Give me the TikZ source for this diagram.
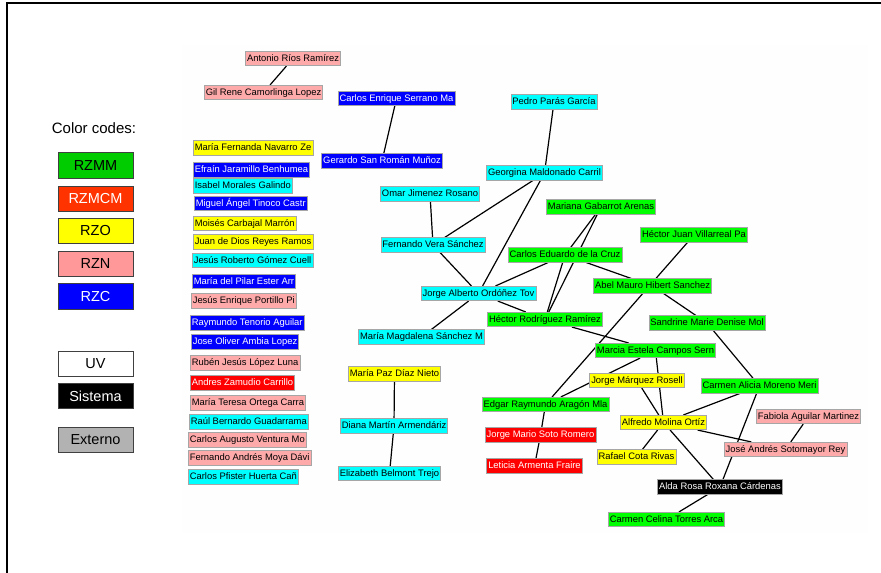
\documentclass[tikz,border=0pt]{standalone}
\usepackage{fontspec}
\setmainfont{Liberation Sans}
\usetikzlibrary{backgrounds}

\definecolor{pgreen}{RGB}{0,255,0}
\definecolor{pcyan}{RGB}{0,255,255}
\definecolor{pblue}{RGB}{0,0,255}
\definecolor{pyellow}{RGB}{255,255,0}
\definecolor{ppink}{RGB}{255,170,170}
\definecolor{pred}{RGB}{255,0,0}
\definecolor{lgreen}{RGB}{0,204,0}
\definecolor{lorange}{RGB}{255,51,0}
\definecolor{lpink}{RGB}{255,153,153}
\definecolor{lgray}{RGB}{178,178,178}
\definecolor{pale}{RGB}{254,254,254}

\tikzset{
  person/.style={draw=black!35, line width=0.6pt, inner xsep=1.5pt, inner ysep=0pt,
    text height=7.5pt, text depth=2.5pt, minimum height=14.5pt,
    font=\fontsize{9.4}{10}\selectfont},
  gbox/.style={person, fill=pgreen},
  cbox/.style={person, fill=pcyan},
  bbox/.style={person, fill=pblue, text=white},
  ybox/.style={person, fill=pyellow},
  pbox/.style={person, fill=ppink},
  rbox/.style={person, fill=pred, text=white},
  kbox/.style={person, fill=black, text=white},
  legbox/.style={draw=black!75, line width=0.9pt, minimum width=75pt, minimum height=25.5pt,
    inner sep=0pt, font=\fontsize{14.5}{16}\selectfont},
  edge/.style={line width=1.2pt}
}

\begin{document}
\begin{tikzpicture}[x=1pt,y=-1pt]
  \useasboundingbox (0,0) rectangle (881,573);
  % frame
  \draw[line width=2pt] (7,573) -- (7,3) -- (881,3);

  % legend
  \node[font=\fontsize{15}{17}\selectfont] (codes) at (94,128) {Color codes:};
  \node[legbox, fill=lgreen] (lrzmm) at (95.5,165.5) {RZMM};
  \node[legbox, fill=lorange, text=white] (lrzmcm) at (95.5,199) {RZMCM};
  \node[legbox, fill=pyellow] (lrzo) at (95.5,231) {RZO};
  \node[legbox, fill=lpink] (lrzn) at (95.5,264) {RZN};
  \node[legbox, fill=pblue, text=white] (lrzc) at (95.5,296.5) {RZC};
  \node[legbox, fill=white] (luv) at (95.5,364) {UV};
  \node[legbox, fill=black, text=white] (lsistema) at (95.5,396) {Sistema};
  \node[legbox, fill=lgray] (lexterno) at (95.5,440) {Externo};

  % isolated people
  \node[ybox, anchor=west] (navarro) at (193,148) {María Fernanda Navarro Ze};
  \node[bbox, anchor=west] (jaramillo) at (193,170) {Efraín Jaramillo Benhumea};
  \node[cbox, anchor=west] (morales) at (193,186) {Isabel Morales Galindo};
  \node[bbox, anchor=west] (tinoco) at (194,203.5) {Miguel Ángel Tinoco Castr};
  \node[ybox, anchor=west] (carbajal) at (193,223.5) {Moisés Carbajal Marrón};
  \node[ybox, anchor=west] (reyes) at (193,242) {Juan de Dios Reyes Ramos};
  \node[cbox, anchor=west] (gomez) at (192,260.5) {Jesús Roberto Gómez Cuell};
  \node[bbox, anchor=west] (pilar) at (192,281.5) {María del Pilar Ester Arr};
  \node[pbox, anchor=west] (portillo) at (191,301) {Jesús Enrique Portillo Pi};
  \node[bbox, anchor=west] (tenorio) at (190,323) {Raymundo Tenorio Aguilar};
  \node[bbox, anchor=west] (ambia) at (191,342) {Jose Oliver Ambia Lopez};
  \node[pbox, anchor=west] (lopez) at (190,363) {Rubén Jesús López Luna};
  \node[rbox, anchor=west] (zamudio) at (190,383) {Andres Zamudio Carrillo};
  \node[pbox, anchor=west] (ortega) at (190,403) {María Teresa Ortega Carra};
  \node[cbox, anchor=west] (guadarrama) at (189,422) {Raúl Bernardo Guadarrama};
  \node[pbox, anchor=west] (ventura) at (188,440) {Carlos Augusto Ventura Mo};
  \node[pbox, anchor=west] (moya) at (188,458) {Fernando Andrés Moya Dávi};
  \node[cbox, anchor=west] (pfister) at (188,477) {Carlos Pfister Huerta Cañ};

  % graph
  \node[pbox] (rios) at (293,58.5) {Antonio Ríos Ramírez};
  \node[pbox] (camorlinga) at (263.5,92.5) {Gil Rene Camorlinga Lopez};
  \node[bbox] (serrano) at (396.5,98.5) {Carlos Enrique Serrano Ma};
  \node[bbox] (sanroman) at (382,161) {Gerardo San Román Muñoz};
  \node[cbox] (paras) at (554,102) {Pedro Parás García};
  \node[cbox] (maldonado) at (544.5,173) {Georgina Maldonado Carril};
  \node[cbox] (jimenez) at (430,194) {Omar Jimenez Rosano};
  \node[cbox] (vera) at (433,245) {Fernando Vera Sánchez};
  \node[gbox] (gabarrot) at (601,207) {Mariana Gabarrot Arenas};
  \node[gbox] (villarreal) at (694,235) {Héctor Juan Villarreal Pa};
  \node[gbox] (cruz) at (565,255) {Carlos Eduardo de la Cruz};
  \node[gbox] (hibert) at (652.5,286) {Abel Mauro Hibert Sanchez};
  \node[cbox] (ordonez) at (478.5,293.5) {Jorge Alberto Ordóñez Tov};
  \node[gbox] (rodriguez) at (545,319.5) {Héctor Rodríguez Ramírez};
  \node[gbox] (sandrine) at (707,323) {Sandrine Marie Denise Mol};
  \node[cbox] (magdalena) at (421.5,337) {María Magdalena Sánchez M};
  \node[gbox] (campos) at (655.5,350.5) {Marcia Estela Campos Sern};
  \node[ybox] (diaz) at (394.5,374) {María Paz Díaz Nieto};
  \node[ybox] (marquez) at (637,380.5) {Jorge Márquez Rosell};
  \node[gbox] (moreno) at (759.5,386) {Carmen Alicia Moreno Meri};
  \node[gbox] (aragon) at (545.5,404.5) {Edgar Raymundo Aragón Mla};
  \node[pbox] (aguilar) at (808.5,416.5) {Fabiola Aguilar Martinez};
  \node[ybox] (molina) at (663.5,422.5) {Alfredo Molina Ortíz};
  \node[rbox] (soto) at (540.5,435) {Jorge Mario Soto Romero};
  \node[cbox] (martin) at (394,426) {Diana Martín Armendáriz};
  \node[pbox] (sotomayor) at (785.5,449.5) {José Andrés Sotomayor Rey};
  \node[ybox] (cota) at (636.5,457) {Rafael Cota Rivas};
  \node[rbox] (armenta) at (534.5,466) {Leticia Armenta Fraire};
  \node[cbox] (belmont) at (389.5,473.5) {Elizabeth Belmont Trejo};
  \node[kbox] (cardenas) at (720,487) {Alda Rosa Roxana Cárdenas};
  \node[gbox] (torres) at (666.5,519.5) {Carmen Celina Torres Arca};

  \begin{scope}[on background layer]
    % light area behind the graph
    \fill[pale] (182,45) rectangle (868,533);
    % links
    \draw[edge] (rios) -- (camorlinga);
    \draw[edge] (serrano) -- (sanroman);
    \draw[edge] (paras) -- (maldonado);
    \draw[edge] (maldonado) -- (vera);
    \draw[edge] (maldonado) -- (ordonez);
    \draw[edge] (jimenez) -- (vera);
    \draw[edge] (vera) -- (ordonez);
    \draw[edge] (ordonez) -- (cruz);
    \draw[edge] (ordonez) -- (rodriguez);
    \draw[edge] (ordonez) -- (magdalena);
    \draw[edge] (gabarrot) -- (cruz);
    \draw[edge] (gabarrot) -- (rodriguez);
    \draw[edge] (cruz) -- (rodriguez);
    \draw[edge] (cruz) -- (hibert);
    \draw[edge] (villarreal) -- (aragon);
    \draw[edge] (hibert) -- (sandrine);
    \draw[edge] (sandrine) -- (moreno);
    \draw[edge] (rodriguez) -- (campos);
    \draw[edge] (campos) -- (aragon);
    \draw[edge] (campos) -- (molina);
    \draw[edge] (marquez) -- (molina);
    \draw[edge] (molina) -- (moreno);
    \draw[edge] (molina) -- (cota);
    \draw[edge] (molina) -- (sotomayor);
    \draw[edge] (molina) -- (cardenas);
    \draw[edge] (moreno) -- (cardenas);
    \draw[edge] (aguilar) -- (sotomayor);
    \draw[edge] (cardenas) -- (torres);
    \draw[edge] (aragon) -- (soto);
    \draw[edge] (soto) -- (armenta);
    \draw[edge] (diaz) -- (martin);
    \draw[edge] (martin) -- (belmont);
  \end{scope}
\end{tikzpicture}
\end{document}
